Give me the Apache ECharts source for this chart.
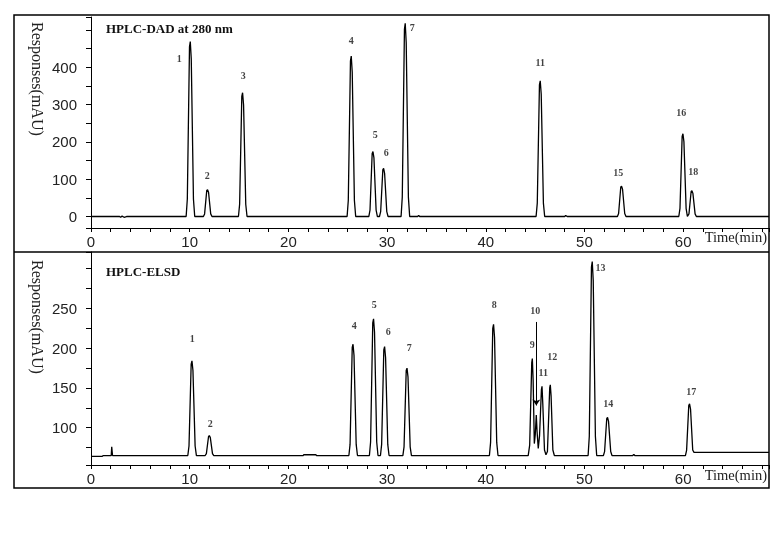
<!DOCTYPE html>
<html>
<head>
<meta charset="utf-8">
<script src="https://cdn.jsdelivr.net/npm/echarts@6/dist/echarts.min.js"></script>
<style>
  html, body {margin: 0; padding: 0; background: #fff;}
  #chart {width: 771px; height: 546px; will-change: transform; -webkit-font-smoothing: antialiased;}
</style>
</head>
<body>
<div id="chart"></div>
<script>
// HPLC-DAD (280 nm) trace, [time(min), response(mAU)]
const dadTrace = [
  [0, 0], [2.9, 0], [3.0, -2], [3.15, 1], [3.35, -2], [3.6, 0],
  [9.64, 0], [9.76, 47], [9.98, 455], [10.06, 469], [10.16, 422], [10.38, 47], [10.51, 0],
  [11.39, 0], [11.51, 7], [11.73, 70], [11.81, 72], [11.91, 65], [12.13, 7], [12.26, 0],
  [14.94, 0], [15.06, 33], [15.28, 322], [15.36, 332], [15.46, 299], [15.68, 33], [15.81, 0],
  [25.95, 0], [26.07, 43], [26.29, 417], [26.37, 430], [26.47, 387], [26.69, 43], [26.82, 0],
  [28.15, 0], [28.27, 17], [28.49, 169], [28.57, 174], [28.67, 157], [28.89, 17], [29.02, 0],
  [29.23, 0], [29.35, 13], [29.57, 125], [29.65, 129], [29.75, 116], [29.97, 13], [30.1, 0],
  [31.42, 0], [31.54, 52], [31.76, 502], [31.84, 518], [31.94, 466], [32.16, 52], [32.29, 0],
  [33.1, 0], [33.2, 3], [33.3, 0],
  [45.1, 0], [45.22, 36], [45.44, 353], [45.52, 364], [45.62, 328], [45.84, 36], [45.97, 0],
  [48.0, 0], [48.1, 3], [48.25, 0],
  [53.34, 0], [53.46, 8], [53.68, 79], [53.76, 81], [53.86, 73], [54.08, 8], [54.21, 0],
  [59.56, 0], [59.68, 22], [59.9, 215], [59.98, 222], [60.08, 200], [60.3, 22], [60.43, 0],
  [60.47, 0], [60.59, 7], [60.81, 67], [60.89, 69], [60.99, 62], [61.21, 7], [61.34, 0],
  [68.7, 0],
]

// HPLC-ELSD trace
const elsdTrace = [
  [0, 64], [1.15, 64], [1.25, 65], [2.05, 65], [2.1, 76], [2.18, 65],
  [9.81, 65], [9.93, 77], [10.15, 180], [10.23, 184], [10.33, 172], [10.55, 77], [10.68, 65],
  [11.57, 65], [11.69, 67.5], [11.91, 89], [11.99, 90], [12.09, 87.5], [12.31, 67.5], [12.44, 65],
  [21.5, 65], [21.55, 66], [22.8, 66], [22.85, 65],
  [26.13, 65], [26.25, 79], [26.47, 201], [26.55, 205], [26.65, 191], [26.87, 79], [27.0, 65],
  [28.21, 65], [28.33, 82], [28.55, 232], [28.63, 237], [28.73, 220], [28.95, 82], [29.08, 65],
  [29.33, 65], [29.45, 79], [29.67, 198], [29.75, 202], [29.85, 188], [30.07, 79], [30.2, 65],
  [31.6, 65], [31.72, 76], [31.94, 172], [32.02, 175], [32.12, 164], [32.34, 76], [32.47, 65],
  [40.37, 65], [40.49, 81.5], [40.71, 225], [40.79, 230], [40.89, 213.5], [41.11, 81.5], [41.24, 65],
  [44.3, 65], [44.45, 78], [44.66, 182], [44.72, 187], [44.8, 160], [44.92, 80],
  [45.02, 92], [45.12, 116], [45.2, 95], [45.32, 74], [45.45, 90],
  [45.64, 148], [45.7, 152], [45.78, 130], [45.95, 72], [46.1, 66], [46.25, 70],
  [46.48, 150], [46.54, 154], [46.62, 140], [46.8, 72], [46.95, 65],
  [50.37, 65], [50.49, 89], [50.71, 302], [50.79, 309], [50.89, 285], [51.11, 89], [51.24, 65],
  [51.92, 65], [52.04, 70], [52.26, 111.5], [52.34, 113], [52.44, 108], [52.66, 70], [52.79, 65],
  [54.9, 65], [55.0, 66.5], [55.1, 65],
  [60.23, 65], [60.35, 71.5], [60.57, 128], [60.65, 130], [60.75, 123.5], [60.97, 72], [61.1, 69],
  [68.7, 69],
]

// peak numbers and where they are written (time, response)
const dadPeakNames = ['1', '2', '3', '4', '5', '6', '7', '11', '15', '16', '18']
const dadLabelTimes = [8.95, 11.78, 15.43, 26.37, 28.8, 29.92, 32.55, 45.52, 53.43, 59.81, 61.03]
const dadLabelValues = [425, 109, 377, 471, 219, 171, 508, 414, 117, 278, 120]

const elsdPeakNames = ['1', '2', '4', '5', '6', '7', '8', '9', '10', '11', '12', '13', '14', '17']
const elsdLabelTimes = [10.26, 12.09, 26.68, 28.7, 30.12, 32.25, 40.86, 44.71, 45.02, 45.83, 46.74, 51.62, 52.41, 60.82]
const elsdLabelValues = [212, 105, 228, 255, 221, 201, 255, 205, 248, 170, 190, 302, 131, 145]

// arrow from label 10 down to its peak
const elsdArrow = [[45.12, 233], [45.12, 128]]

const timeLabels = [0, 10, 20, 30, 40, 50, 60]
const dadYLabels = [0, 100, 200, 300, 400]
const elsdYLabels = [100, 150, 200, 250]

const serif = '"Liberation Serif", "Times New Roman", serif'
const sans = '"Liberation Sans", Arial, sans-serif'

const showIn = list => value => (list.indexOf(value) >= 0 ? String(value) : '')

const labelData = (names, times, values) =>
  names.map((n, i) => ({name: n, value: [times[i], values[i]]}))

const xAxisOf = gridIndex => ({
  type: 'value',
  gridIndex,
  min: 0,
  max: 68.7,
  interval: 2,
  axisLine: {show: true, onZero: false, lineStyle: {color: '#000', width: 1}},
  axisTick: {show: true, length: 4, lineStyle: {color: '#000', width: 1}},
  axisLabel: {formatter: showIn(timeLabels), color: '#222', fontFamily: sans, fontSize: 15, margin: 6},
  splitLine: {show: false},
})

const yAxisOf = (gridIndex, min, max, step, labels) => ({
  type: 'value',
  gridIndex,
  min,
  max,
  minInterval: step,
  maxInterval: step,
  splitNumber: 12,
  axisLine: {show: true, lineStyle: {color: '#000', width: 1}},
  axisTick: {show: true, length: 5, lineStyle: {color: '#000', width: 1}},
  axisLabel: {formatter: showIn(labels), color: '#222', fontFamily: sans, fontSize: 15, margin: 14},
  splitLine: {show: false},
})

const traceSeries = (idx, data) => ({
  type: 'line',
  xAxisIndex: idx,
  yAxisIndex: idx,
  data,
  showSymbol: false,
  symbol: 'none',
  silent: true,
  itemStyle: {color: '#000'},
  lineStyle: {color: '#000', width: 1.3},
})

const labelSeries = (idx, data) => ({
  type: 'scatter',
  xAxisIndex: idx,
  yAxisIndex: idx,
  data,
  symbolSize: 0,
  silent: true,
  itemStyle: {color: '#000'},
  label: {
    show: true,
    position: 'inside',
    formatter: p => p.name,
    color: '#111',
    textBorderWidth: 0,
    fontFamily: serif,
    fontWeight: 'bold',
    fontSize: 10,
  },
})

const elsd = traceSeries(1, elsdTrace)
elsd.markLine = {
  silent: true,
  symbol: ['none', 'arrow'],
  symbolSize: 6,
  label: {show: false},
  lineStyle: {color: '#000', width: 1, type: 'solid'},
  data: [[{coord: elsdArrow[0]}, {coord: elsdArrow[1]}]],
}

const titleStyle = {fontFamily: serif, fontWeight: 'bold', fontSize: 13, color: '#111'}
const nameStyle = (text, x, y) => ({
  type: 'text',
  x,
  y,
  rotation: -Math.PI / 2,
  silent: true,
  style: {
    text, x: 0, y: 0, fill: '#222', font: '16px ' + serif,
    align: 'left', verticalAlign: 'middle', textAlign: 'left', textVerticalAlign: 'middle',
  },
})
const timeName = y => ({
  type: 'text',
  x: 767,
  y,
  silent: true,
  style: {
    text: 'Time(min)', x: 0, y: 0, fill: '#222', font: '14.5px ' + serif,
    align: 'right', verticalAlign: 'middle', textAlign: 'right', textVerticalAlign: 'middle',
  },
})

const chart = echarts.init(document.getElementById('chart'), null, {renderer: 'svg'})
chart.setOption({
  animation: false,
  backgroundColor: '#fff',
  title: [
    {text: 'HPLC-DAD at 280 nm', left: 106, top: 22, padding: 0, textStyle: titleStyle},
    {text: 'HPLC-ELSD', left: 106, top: 265, padding: 0, textStyle: titleStyle},
  ],
  grid: [
    {left: 91, top: 17, width: 678, height: 211, outerBoundsMode: 'none'},
    {left: 91, top: 252, width: 678, height: 213, outerBoundsMode: 'none'},
  ],
  xAxis: [xAxisOf(0), xAxisOf(1)],
  yAxis: [
    yAxisOf(0, -30.8, 535, 50, dadYLabels),
    yAxisOf(1, 53.1, 321, 25, elsdYLabels),
  ],
  series: [
    traceSeries(0, dadTrace),
    elsd,
    labelSeries(0, labelData(dadPeakNames, dadLabelTimes, dadLabelValues)),
    labelSeries(1, labelData(elsdPeakNames, elsdLabelTimes, elsdLabelValues)),
  ],
  graphic: [
    {type: 'rect', silent: true, shape: {x: 14, y: 15, width: 755, height: 473}, style: {fill: 'none', stroke: '#000', lineWidth: 1.5}},
    {type: 'line', silent: true, shape: {x1: 14, y1: 252, x2: 769, y2: 252}, style: {stroke: '#000', lineWidth: 1.5}},
    nameStyle('Responses(mAU)', 37, 22),
    nameStyle('Responses(mAU)', 37, 260),
    timeName(237),
    timeName(475),
  ],
})
</script>
</body>
</html>
